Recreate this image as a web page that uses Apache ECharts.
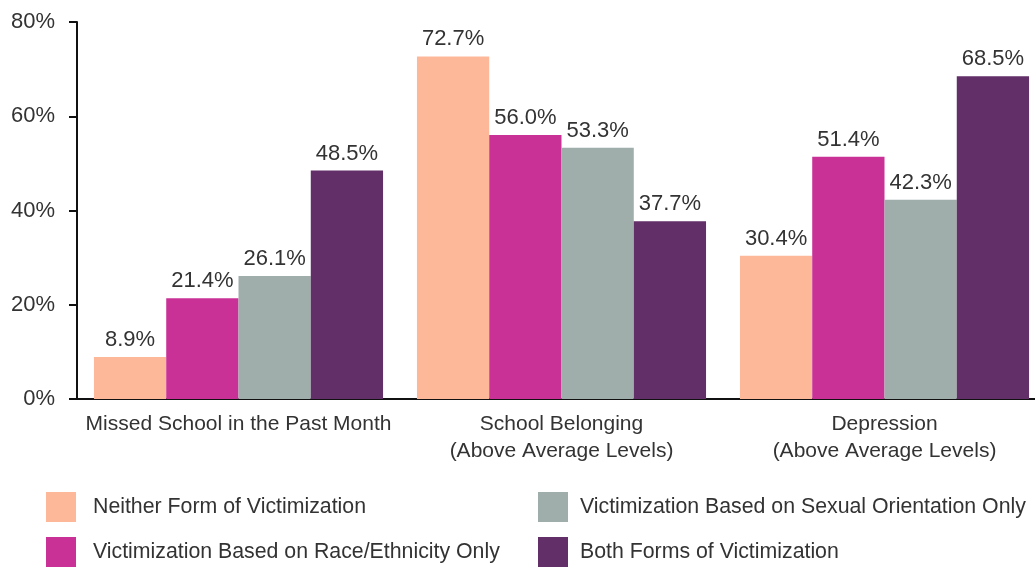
<!DOCTYPE html>
<html><head><meta charset="utf-8">
<script src="https://cdn.jsdelivr.net/npm/echarts@6/dist/echarts.min.js"></script>
<style>html,body{margin:0;padding:0;background:#fff;overflow:hidden;width:1035px;height:567px}#c{width:1046px;height:567px}</style>
</head><body><div id="c"></div>
<script>
const categories = ['Missed School in the Past Month', 'School Belonging\n(Above Average Levels)', 'Depression\n(Above Average Levels)'];
const seriesNames = ['Neither Form of Victimization', 'Victimization Based on Race/Ethnicity Only', 'Victimization Based on Sexual Orientation Only', 'Both Forms of Victimization'];
const neither = [8.9, 72.7, 30.4];
const raceOnly = [21.4, 56.0, 51.4];
const sexualOnly = [26.1, 53.3, 42.3];
const both = [48.5, 37.7, 68.5];
const colors = ['#FDB89A', '#C93196', '#9FADAB', '#622F68'];
const yTicks = [0, 20, 40, 60, 80];

const FONT = 'Liberation Sans';
const FS = 21;
const values = [neither, raceOnly, sexualOnly, both];
const legendPos = [[46, 492], [46, 537], [538, 492], [538, 537]];
const chart = echarts.init(document.getElementById('c'));
chart.setOption({
  animation: false,
  textStyle: {fontFamily: FONT},
  grid: {left: 77, top: 22, right: 0, bottom: 168, containLabel: false},
  legend: seriesNames.map((n, i) => ({
    data: [n], left: legendPos[i][0], top: legendPos[i][1], itemWidth: 30, itemHeight: 30, padding: 0,
    icon: 'rect', itemGap: 0,
    textStyle: {fontSize: 21.3, color: '#333', fontFamily: FONT, padding: [0, 0, 0, i < 2 ? 12 : 7]}
  })),
  xAxis: {
    type: 'category', data: categories,
    axisLine: {lineStyle: {color: '#111', width: 2}},
    axisTick: {show: false},
    axisLabel: {fontSize: FS, color: '#333', lineHeight: 27, margin: 12, interval: 0}
  },
  yAxis: {
    type: 'value', min: yTicks[0], max: yTicks[yTicks.length - 1], interval: 20,
    axisLine: {show: true, lineStyle: {color: '#111', width: 2}},
    axisTick: {show: true, length: 8, lineStyle: {color: '#111', width: 2}},
    splitLine: {show: false},
    axisLabel: {fontSize: 22, color: '#333', margin: 22, formatter: v => v + '%'}
  },
  series: seriesNames.map((n, i) => ({
    name: n, type: 'bar', data: values[i],
    barGap: '0%', barCategoryGap: '10.5%',
    itemStyle: {color: colors[i]},
    label: {show: true, position: 'top', distance: 6, fontSize: 22, color: '#333', fontFamily: FONT,
      formatter: p => p.value.toFixed(1) + '%'}
  }))
});
</script></body></html>
